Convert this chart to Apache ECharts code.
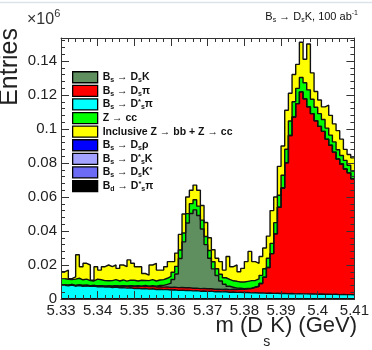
<!DOCTYPE html>
<html>
<head>
<meta charset="utf-8">
<script src="https://cdn.jsdelivr.net/npm/echarts@6/dist/echarts.min.js"></script>
<style>
  html, body { margin: 0; padding: 0; background: #fff; }
  #chart { width: 372px; height: 350px; }
</style>
</head>
<body>
<div id="chart"></div>
<script>
// Histogram binning: 80 bins of 1 MeV from 5.33 to 5.41 GeV
const binLow = 5.33;
const binWidth = 0.001;

const xTickLabels = ['5.33', '5.34', '5.35', '5.36', '5.37', '5.38', '5.39', '5.4', '5.41'];
const yTickLabels = ['0', '0.02', '0.04', '0.06', '0.08', '0.1', '0.12', '0.14'];

// Entries per bin (x10^6) for each component of the stack
const bsDsStarPi = [
  .0080, .0078, .0082, .0076, .0079, .0075, .0077, .0074, .0076, .0072,
  .0073, .0070, .0071, .0068, .0070, .0066, .0067, .0064, .0066, .0062,
  .0063, .0060, .0062, .0058, .0060, .0056, .0057, .0055, .0056, .0053,
  .0054, .0051, .0052, .0050, .0051, .0048, .0049, .0046, .0047, .0045,
  .0046, .0043, .0044, .0042, .0043, .0040, .0041, .0039, .0040, .0038,
  .0038, .0036, .0037, .0035, .0036, .0034, .0035, .0033, .0034, .0032,
  .0033, .0031, .0032, .0030, .0031, .0030, .0030, .0029, .0030, .0028,
  .0029, .0028, .0028, .0027, .0028, .0026, .0027, .0026, .0026, .0025
];
const bsDsPi = [
  .0003, .0003, .0003, .0003, .0003, .0004, .0004, .0004, .0004, .0005,
  .0005, .0006, .0006, .0007, .0008, .0010, .0011, .0012, .0012, .0013,
  .0013, .0014, .0014, .0015, .0014, .0015, .0015, .0015, .0015, .0015,
  .0016, .0016, .0016, .0016, .0016, .0015, .0015, .0015, .0015, .0015,
  .0014, .0014, .0014, .0014, .0014, .0015, .0016, .0017, .0018, .0019,
  .0022, .0026, .0032, .0040, .0055, .0094, .0150, .0234, .0350, .0508,
  .0620, .0770, .0930, .1040, .1118, .1188, .1147, .1101, .1060, .1020,
  .0986, .0958, .0912, .0877, .0836, .0797, .0767, .0739, .0716, .0682
];
const bsDsK = [
  0, 0, 0, 0, 0, 0, 0, 0, 0, 0,
  0, 0, 0, 0, 0, 0, 0, 0, 0, 0,
  .0002, .0002, .0003, .0003, .0004, .0005, .0007, .0010, .0015, .0025,
  .0045, .0080, .0170, .0270, .0380, .0440, .0460, .0430, .0350, .0260,
  .0180, .0120, .0080, .0050, .0030, .0020, .0012, .0008, .0005, .0003,
  .0002, .0001, 0, 0, 0, 0, 0, 0, 0, 0,
  0, 0, 0, 0, 0, 0, 0, 0, 0, 0,
  0, 0, 0, 0, 0, 0, 0, 0, 0, 0
];
const zcc = [
  .0037, .0035, .0030, .0038, .0040, .0034, .0036, .0030, .0026, .0040,
  .0035, .0032, .0030, .0033, .0036, .0030, .0034, .0029, .0033, .0035,
  .0028, .0034, .0030, .0032, .0036, .0030, .0033, .0034, .0036, .0040,
  .0042, .0045, .0050, .0052, .0055, .0058, .0060, .0055, .0052, .0048,
  .0045, .0042, .0040, .0040, .0038, .0040, .0038, .0040, .0037, .0040,
  .0042, .0045, .0040, .0043, .0048, .0050, .0055, .0060, .0065, .0070,
  .0075, .0080, .0085, .0090, .0090, .0085, .0095, .0100, .0085, .0080,
  .0075, .0070, .0065, .0060, .0060, .0055, .0050, .0050, .0045, .0045
];
const inclusiveZbbZcc = [
  .0040, .0054, .0005, .0013, .0138, .0077, .0093, .0092, .0004, .0073,
  .0057, .0082, .0093, .0082, .0086, .0074, .0088, .0085, .0119, .0100,
  .0084, .0080, .0041, .0032, .0086, .0104, .0058, .0056, .0068, .0087,
  .0063, .0078, .0092, .0112, .0098, .0079, .0086, .0094, .0086, .0082,
  .0075, .0071, .0062, .0074, .0045, .0135, .0083, .0096, .0060, .0080,
  .0116, .0172, .0111, .0092, .0111, .0122, .0130, .0193, .0151, .0170,
  .0172, .0229, .0163, .0160, .0141, .0207, .0138, .0270, .0155, .0092,
  .0080, .0074, .0135, .0116, .0106, .0112, .0096, .0065, .0063, .0078
];
const bsDsRho = [
  0, 0, 0, 0, 0, 0, 0, 0, 0, 0, 0, 0, 0, 0, 0, 0, 0, 0, 0, 0,
  0, 0, 0, 0, 0, 0, 0, 0, 0, 0, 0, 0, 0, 0, 0, 0, 0, 0, 0, 0,
  0, 0, 0, 0, 0, 0, 0, 0, 0, 0, 0, 0, 0, 0, 0, 0, 0, 0, 0, 0,
  0, 0, 0, 0, 0, 0, 0, 0, 0, 0, 0, 0, 0, 0, 0, 0, 0, 0, 0, 0
];
const bsDsStarK = [
  0, 0, 0, 0, 0, 0, 0, 0, 0, 0, 0, 0, 0, 0, 0, 0, 0, 0, 0, 0,
  0, 0, 0, 0, 0, 0, 0, 0, 0, 0, 0, 0, 0, 0, 0, 0, 0, 0, 0, 0,
  0, 0, 0, 0, 0, 0, 0, 0, 0, 0, 0, 0, 0, 0, 0, 0, 0, 0, 0, 0,
  0, 0, 0, 0, 0, 0, 0, 0, 0, 0, 0, 0, 0, 0, 0, 0, 0, 0, 0, 0
];
const bsDsKStar = [
  0, 0, 0, 0, 0, 0, 0, 0, 0, 0, 0, 0, 0, 0, 0, 0, 0, 0, 0, 0,
  0, 0, 0, 0, 0, 0, 0, 0, 0, 0, 0, 0, 0, 0, 0, 0, 0, 0, 0, 0,
  0, 0, 0, 0, 0, 0, 0, 0, 0, 0, 0, 0, 0, 0, 0, 0, 0, 0, 0, 0,
  0, 0, 0, 0, 0, 0, 0, 0, 0, 0, 0, 0, 0, 0, 0, 0, 0, 0, 0, 0
];
const bdDsStarPi = [
  0, 0, 0, 0, 0, 0, 0, 0, 0, 0, 0, 0, 0, 0, 0, 0, 0, 0, 0, 0,
  0, 0, 0, 0, 0, 0, 0, 0, 0, 0, 0, 0, 0, 0, 0, 0, 0, 0, 0, 0,
  0, 0, 0, 0, 0, 0, 0, 0, 0, 0, 0, 0, 0, 0, 0, 0, 0, 0, 0, 0,
  0, 0, 0, 0, 0, 0, 0, 0, 0, 0, 0, 0, 0, 0, 0, 0, 0, 0, 0, 0
];

const FONT = 'Liberation Sans, Arial, Helvetica, sans-serif';

// Stack order, bottom to top
const components = [
  { name: 'Bd → D*sπ', data: bdDsStarPi, color: '#000000', label: '{t|B}{s|d}{t| → D}{p|*}{s|s}{t|π}' },
  { name: 'Bs → DsK*', data: bsDsKStar, color: '#6b6bf5', label: '{t|B}{s|s}{t| → D}{s|s}{t|K}{p|*}' },
  { name: 'Bs → D*sK', data: bsDsStarK, color: '#a3a3ff', label: '{t|B}{s|s}{t| → D}{p|*}{s|s}{t|K}' },
  { name: 'Bs → Dsρ', data: bsDsRho, color: '#0000ff', label: '{t|B}{s|s}{t| → D}{s|s}{t|ρ}' },
  { name: 'Bs → D*sπ', data: bsDsStarPi, color: '#00ffff', label: '{t|B}{s|s}{t| → D}{p|*}{s|s}{t|π}' },
  { name: 'Bs → Dsπ', data: bsDsPi, color: '#ff0000', label: '{t|B}{s|s}{t| → D}{s|s}{t|π}' },
  { name: 'Bs → DsK', data: bsDsK, color: '#5f8f5f', label: '{t|B}{s|s}{t| → D}{s|s}{t|K}' },
  { name: 'Z → cc', data: zcc, color: '#00ff00', label: '{t|Z → cc}' },
  { name: 'Inclusive Z → bb + Z → cc', data: inclusiveZbbZcc, color: '#ffff00', label: '{t|Inclusive Z → bb + Z → cc}' }
];
const legendOrder = ['Bs → DsK', 'Bs → Dsπ', 'Bs → D*sπ', 'Z → cc', 'Inclusive Z → bb + Z → cc',
  'Bs → Dsρ', 'Bs → D*sK', 'Bs → DsK*', 'Bd → D*sπ'];
const byName = {};
components.forEach(c => { byName[c.name] = c; });

// Running sum of the stack: each component is drawn as the cumulative histogram
// up to and including itself, painted from the top of the stack downwards.
const cumulative = [];
components.forEach((c, k) => {
  cumulative.push(c.data.map((v, i) => v + (k > 0 ? cumulative[k - 1][i] : 0)));
});

// Step histogram points at bin low edges, closed at the upper edge
function toSteps(values) {
  const pts = values.map((v, i) => [+(binLow + i * binWidth).toFixed(3), v]);
  pts.push([+(binLow + values.length * binWidth).toFixed(3), values[values.length - 1]]);
  return pts;
}

const series = components.map((c, k) => ({
  name: c.name,
  type: 'line',
  step: 'end',
  symbol: 'none',
  silent: true,
  z: 2,
  data: toSteps(cumulative[k]),
  lineStyle: { color: '#111', width: 1.4 },
  itemStyle: { color: c.color },
  areaStyle: { color: c.color, opacity: 1, origin: 'start' }
})).reverse();

const axisLineStyle = { color: '#333', width: 1 };
const xFmt = v => xTickLabels[Math.round((v - binLow) / 0.01)] || '';
const yFmt = v => yTickLabels[Math.round(v / 0.02)] || '';

const chart = echarts.init(document.getElementById('chart'), null, { renderer: 'canvas' });
chart.setOption({
  animation: false,
  backgroundColor: '#fff',
  grid: { left: 61, right: 15, top: 38, bottom: 51 },
  xAxis: [{
    type: 'value', min: 5.33, max: 5.41, interval: 0.01, position: 'bottom', z: 5,
    axisLine: { show: true, onZero: false, lineStyle: axisLineStyle },
    axisTick: { inside: true, length: 8, lineStyle: axisLineStyle },
    minorTick: { show: true, splitNumber: 5, length: 4, lineStyle: axisLineStyle },
    splitLine: { show: false },
    axisLabel: { formatter: xFmt, fontFamily: FONT, fontSize: 15, color: '#222', margin: 4 }
  }, {
    type: 'value', min: 5.33, max: 5.41, interval: 0.01, position: 'top', z: 5,
    axisLine: { show: true, onZero: false, lineStyle: axisLineStyle },
    axisTick: { inside: true, length: 8, lineStyle: axisLineStyle },
    minorTick: { show: true, splitNumber: 5, length: 4, lineStyle: axisLineStyle },
    splitLine: { show: false },
    axisLabel: { show: false }
  }],
  yAxis: [{
    type: 'value', min: 0, max: 0.1535, interval: 0.02, position: 'left', z: 5,
    axisLine: { show: true, onZero: false, lineStyle: axisLineStyle },
    axisTick: { inside: true, length: 8, lineStyle: axisLineStyle },
    minorTick: { show: true, splitNumber: 5, length: 4, lineStyle: axisLineStyle },
    splitLine: { show: false },
    axisLabel: { formatter: yFmt, fontFamily: FONT, fontSize: 15, color: '#222', margin: 4, showMaxLabel: false }
  }, {
    type: 'value', min: 0, max: 0.1535, interval: 0.02, position: 'right', z: 5,
    axisLine: { show: true, onZero: false, lineStyle: axisLineStyle },
    axisTick: { inside: true, length: 8, lineStyle: axisLineStyle },
    minorTick: { show: true, splitNumber: 5, length: 4, lineStyle: axisLineStyle },
    splitLine: { show: false },
    axisLabel: { show: false }
  }],
  legend: {
    orient: 'vertical', left: 67, top: 66, z: 10,
    itemWidth: 25, itemHeight: 11, itemGap: 1.1,
    icon: 'rect',
    selectedMode: false,
    data: legendOrder.map(n => ({
      name: n,
      itemStyle: { color: byName[n].color, borderColor: '#000', borderWidth: 1.3 }
    })),
    formatter: n => byName[n].label,
    textStyle: {
      fontFamily: FONT, fontSize: 10.5, fontWeight: 'bold', color: '#111', lineHeight: 12.5,
      rich: {
        t: { fontFamily: FONT, fontSize: 10.5, fontWeight: 'bold', color: '#111', verticalAlign: 'middle', lineHeight: 12.5 },
        s: { fontFamily: FONT, fontSize: 7, fontWeight: 'bold', color: '#111', verticalAlign: 'bottom' },
        p: { fontFamily: FONT, fontSize: 7.5, fontWeight: 'bold', color: '#111', verticalAlign: 'top' }
      }
    }
  },
  graphic: [
    { type: 'line', shape: { x1: 0, y1: 2.5, x2: 372, y2: 2.5 }, style: { stroke: '#dde3ea', lineWidth: 1.5 }, silent: true },
    {
      type: 'text', left: 27, top: 8, silent: true,
      style: {
        text: '{a|×10}{e|6}',
        rich: {
          a: { fontFamily: FONT, fontSize: 16, fill: '#333', verticalAlign: 'bottom', lineHeight: 20 },
          e: { fontFamily: FONT, fontSize: 11, fill: '#333', verticalAlign: 'top' }
        }
      }
    },
    {
      type: 'text', right: 14, top: 10, silent: true,
      style: {
        text: '{n|B}{d|s}{n| → D}{d|s}{n|K, 100 ab}{u|-1}',
        rich: {
          n: { fontFamily: FONT, fontSize: 11, fill: '#111', verticalAlign: 'middle', lineHeight: 14 },
          d: { fontFamily: FONT, fontSize: 7, fill: '#111', verticalAlign: 'bottom' },
          u: { fontFamily: FONT, fontSize: 7, fill: '#111', verticalAlign: 'top' }
        }
      }
    },
    {
      type: 'text', x: 23, y: 28, rotation: Math.PI / 2, silent: true,
      style: { text: 'Entries', fontFamily: FONT, fontSize: 25, fill: '#222', align: 'right', verticalAlign: 'bottom' }
    },
    {
      type: 'text', right: 15, top: 315, silent: true,
      style: {
        text: '{t|m (D}{s|s}{t|K) (GeV)}',
        rich: {
          t: { fontFamily: FONT, fontSize: 22, fill: '#222', verticalAlign: 'top', lineHeight: 34 },
          s: { fontFamily: FONT, fontSize: 14, fill: '#222', verticalAlign: 'bottom' }
        }
      }
    }
  ],
  series: series
});
</script>
</body>
</html>
